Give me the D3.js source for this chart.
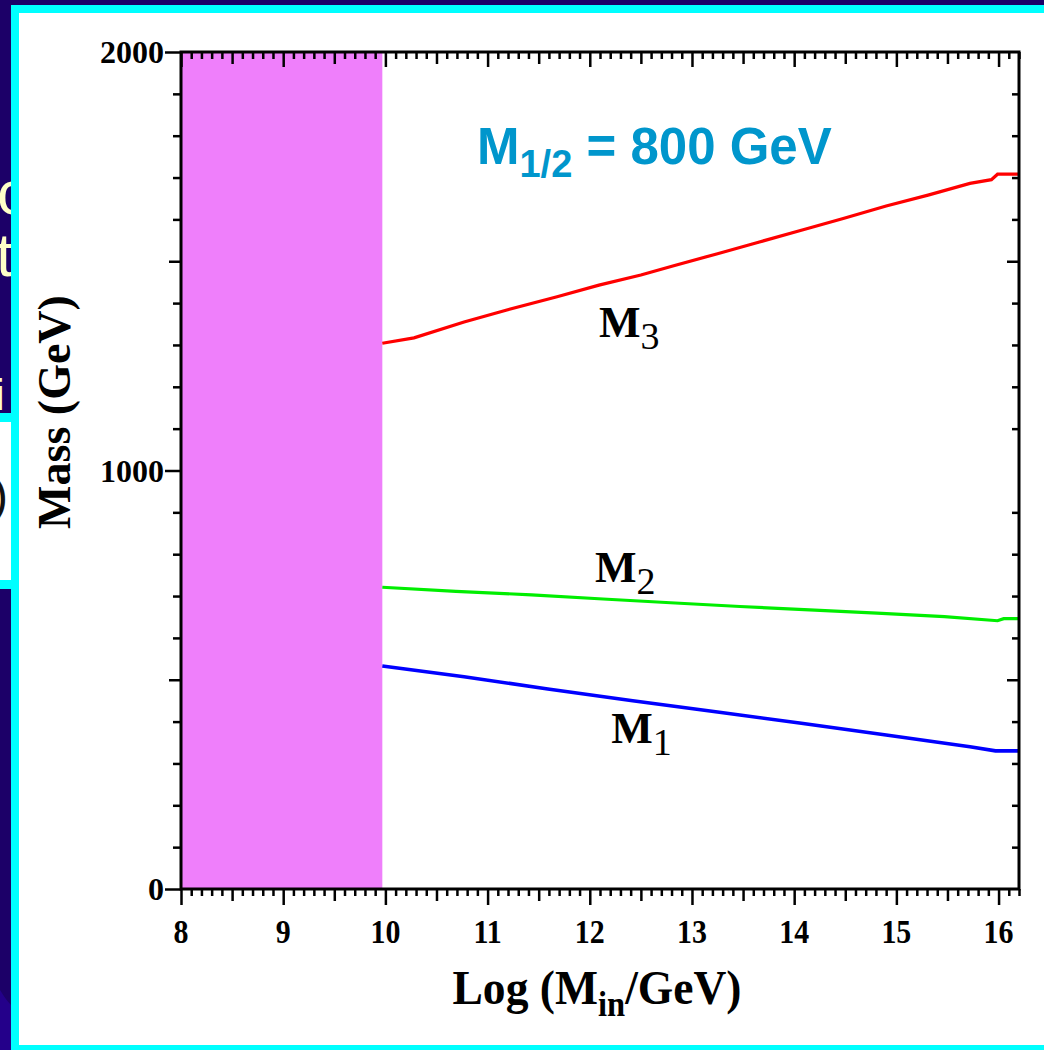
<!DOCTYPE html>
<html>
<head>
<meta charset="utf-8">
<script src="https://cdn.jsdelivr.net/npm/d3@7"></script>
<style>
  html, body { margin: 0; padding: 0; background: #1c0068; }
  svg { display: block; }
</style>
</head>
<body>
<svg id="chart" width="1044" height="1050"></svg>
<script>
// Gaugino masses vs. the input scale, M_1/2 = 800 GeV
const logMin = [9.97, 10.28, 10.77, 11.18, 11.68, 12.09, 12.50, 12.83, 13.25, 13.66, 14.07, 14.48, 14.90, 15.31, 15.72, 15.93, 15.99, 16.2];
const massM3 = [1304, 1317, 1355, 1383, 1415, 1443, 1467, 1490, 1518, 1546, 1574, 1602, 1632, 1658, 1686, 1695, 1708, 1708];

const logMinM2 = [9.97, 10.69, 11.43, 12.13, 12.79, 13.47, 14.15, 14.81, 15.47, 15.99, 16.05, 16.2];
const massM2   = [721, 711, 703, 693, 684, 675, 667, 659, 651, 641, 646, 646];

const logMinM1 = [9.97, 10.77, 11.59, 12.42, 13.25, 14.07, 14.90, 15.72, 15.97, 16.2];
const massM1   = [533, 507, 478, 450, 423, 396, 368, 340, 330, 330];

// excluded band of input scales
const excludedBand = [8, 9.97];

const xTickLabels = [8, 9, 10, 11, 12, 13, 14, 15, 16];
const yTickLabels = [0, 1000, 2000];

const seriesNames  = ["M", "M", "M"];
const seriesSubs   = ["3", "2", "1"];
const labelX       = [12.09, 12.05, 12.21];
const labelY       = [1318, 733, 350];

const svg = d3.select("#chart");
const W = 1044, H = 1050;

// ---- slide backdrop and frame ----
svg.append("rect").attr("width", W).attr("height", H).attr("fill", "#1c0068");
svg.append("path")
  .attr("d", "M0,990 Q6,1000 11,1005 L11,1050 L0,1050 Z")
  .attr("fill", "#24008a");

// fragments of the slide underneath, showing along the left edge
const clip = svg.append("defs").append("clipPath").attr("id", "slideClip");
clip.append("rect").attr("x", 0).attr("y", 0).attr("width", 11).attr("height", H);
const under = svg.append("g").attr("clip-path", "url(#slideClip)");
under.append("text").attr("x", -3).attr("y", 214).text("c")
  .attr("font-family", "Liberation Sans, Arial, sans-serif").attr("font-size", 62).attr("fill", "#ffffc8");
under.append("text").attr("x", -4).attr("y", 276).text("t")
  .attr("font-family", "Liberation Sans, Arial, sans-serif").attr("font-size", 62).attr("fill", "#ffffc8");
under.append("rect").attr("x", 0).attr("y", 413).attr("width", 11).attr("height", 176).attr("fill", "#00ffff");
under.append("rect").attr("x", 0).attr("y", 422).attr("width", 11).attr("height", 158).attr("fill", "#ffffff");
under.append("text").attr("x", -5).attr("y", 410).text("i")
  .attr("font-family", "Liberation Sans, Arial, sans-serif").attr("font-size", 44).attr("fill", "#ffffc8");
under.append("text").attr("x", -8).attr("y", 512).text(")")
  .attr("font-family", "Liberation Sans, Arial, sans-serif").attr("font-size", 48).attr("fill", "#111");

svg.append("rect").attr("x", 11).attr("y", 5).attr("width", W - 11).attr("height", H - 5).attr("fill", "#00ffff");
svg.append("rect").attr("x", 19).attr("y", 13).attr("width", W - 19).attr("height", 1045 - 13).attr("fill", "#ffffff");

// ---- plot ----
const x = d3.scaleLinear().domain([8, 16.2]).range([181, 1019]);
const y = d3.scaleLinear().domain([0, 2000]).range([889, 52]);

const serif = "Liberation Serif, Times New Roman, serif";

svg.append("rect")
  .attr("x", x(excludedBand[0])).attr("y", y(2000))
  .attr("width", x(excludedBand[1]) - x(excludedBand[0]))
  .attr("height", y(0) - y(2000))
  .attr("fill", "#ef7ffb");

const line = d3.line().x(d => x(d[0])).y(d => y(d[1]));
const series = [
  { xs: logMin,   ys: massM3, color: "#ff0000", w: 3.2 },
  { xs: logMinM2, ys: massM2, color: "#00ee00", w: 3.2 },
  { xs: logMinM1, ys: massM1, color: "#0000ff", w: 3.6 }
];
series.forEach(s => {
  svg.append("path")
    .datum(d3.zip(s.xs, s.ys))
    .attr("d", line)
    .attr("fill", "none")
    .attr("stroke", s.color)
    .attr("stroke-width", s.w);
});

// ticks: minor every 0.1 / 100, medium at halves, major at integers / thousands
const xMinor = d3.range(80, 163).map(v => v / 10).filter(v => Math.abs(v * 2 - Math.round(v * 2)) > 1e-6);
const xMedium = d3.range(8.5, 16.2, 1);
const yMinor = d3.range(100, 2000, 100).filter(v => v % 500 !== 0);
const yMedium = [500, 1500];

function tickGroup(axisFn, vals, size, transform) {
  const g = svg.append("g").attr("transform", transform)
    .call(axisFn.tickValues(vals).tickSize(size).tickFormat(""));
  g.select(".domain").remove();
  g.selectAll(".tick line").attr("stroke", "#000").attr("stroke-width", 2.5);
  return g;
}
// bottom: outward
tickGroup(d3.axisBottom(x), xMinor, 7, `translate(0,${y(0)})`);
tickGroup(d3.axisBottom(x), xMedium, 12, `translate(0,${y(0)})`);
tickGroup(d3.axisBottom(x), xTickLabels, 16, `translate(0,${y(0)})`);
// top: inward
tickGroup(d3.axisBottom(x), xMinor, 7, `translate(0,${y(2000)})`);
tickGroup(d3.axisBottom(x), xMedium, 12, `translate(0,${y(2000)})`);
tickGroup(d3.axisBottom(x), xTickLabels, 15, `translate(0,${y(2000)})`);
// left: outward
tickGroup(d3.axisLeft(y), yMinor, 8, `translate(${x(8)},0)`);
tickGroup(d3.axisLeft(y), yMedium, 12, `translate(${x(8)},0)`);
tickGroup(d3.axisLeft(y), yTickLabels, 16, `translate(${x(8)},0)`);
// right: inward
tickGroup(d3.axisLeft(y), yMinor, 7, `translate(${x(16.2)},0)`);
tickGroup(d3.axisLeft(y), yMedium, 12, `translate(${x(16.2)},0)`);

// frame
svg.append("rect")
  .attr("x", x(8)).attr("y", y(2000))
  .attr("width", x(16.2) - x(8)).attr("height", y(0) - y(2000))
  .attr("fill", "none").attr("stroke", "#000").attr("stroke-width", 3);

// tick labels (narrow bold serif)
svg.append("g").selectAll("text").data(xTickLabels).join("text")
  .attr("transform", d => `translate(${x(d)},943) scale(0.88,1)`)
  .attr("text-anchor", "middle")
  .attr("font-family", serif).attr("font-weight", "bold").attr("font-size", 34)
  .text(d => d);
svg.append("g").selectAll("text").data(yTickLabels).join("text")
  .attr("x", 164).attr("y", d => y(d) + 11)
  .attr("text-anchor", "end")
  .attr("font-family", serif).attr("font-weight", "bold").attr("font-size", 32)
  .text(d => d);

// axis titles
const xt = svg.append("text")
  .attr("transform", "translate(597,1004) scale(0.93,1)")
  .attr("text-anchor", "middle")
  .attr("font-family", serif).attr("font-weight", "bold").attr("font-size", 49);
xt.append("tspan").text("Log (M");
xt.append("tspan").attr("font-size", 35).attr("dy", 12).text("in");
xt.append("tspan").attr("dy", -12).text("/GeV)");

svg.append("text")
  .attr("transform", "translate(70,412) rotate(-90)")
  .attr("text-anchor", "middle")
  .attr("font-family", serif).attr("font-weight", "bold").attr("font-size", 46)
  .text("Mass (GeV)");

// curve labels
seriesNames.forEach((n, i) => {
  const t = svg.append("text")
    .attr("x", x(labelX[i])).attr("y", y(labelY[i]))
    .attr("font-family", serif).attr("font-size", 44);
  t.append("tspan").attr("font-weight", "bold").text(n);
  t.append("tspan").attr("font-size", 38).attr("dy", 12).text(seriesSubs[i]);
});

// parameter annotation
const title = svg.append("text")
  .attr("x", 477).attr("y", 164)
  .attr("font-family", "Liberation Sans, Arial, sans-serif")
  .attr("font-weight", "bold").attr("font-size", 51)
  .attr("fill", "#0096cc");
title.append("tspan").text("M");
title.append("tspan").attr("font-size", 38).attr("dy", 13).text("1/2");
title.append("tspan").attr("dy", -13).text(" = 800 GeV");
</script>
</body>
</html>
